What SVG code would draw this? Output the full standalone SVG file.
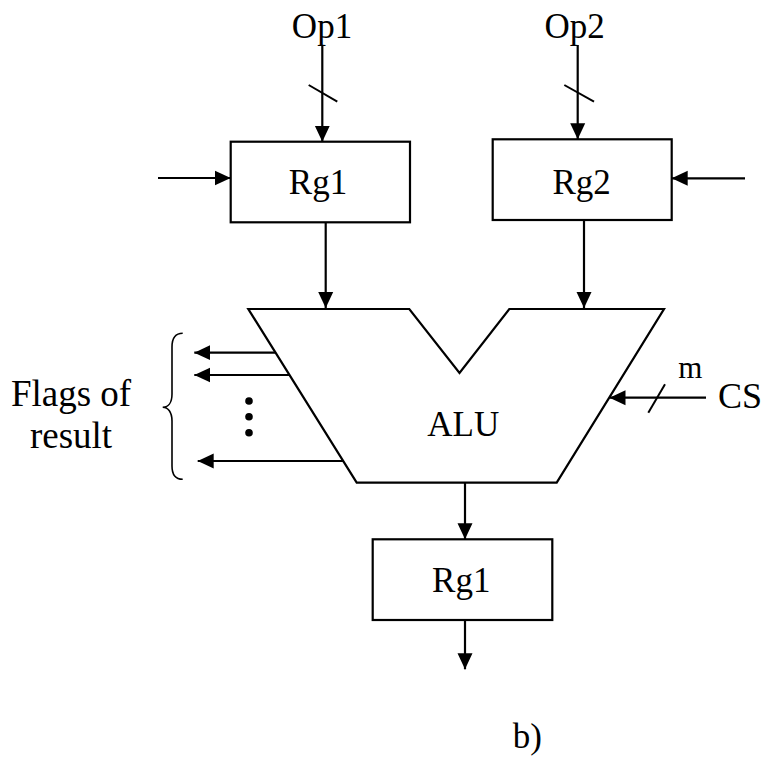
<svg xmlns="http://www.w3.org/2000/svg" width="763" height="758" viewBox="0 0 763 758">
<style>
text { font-family: "Liberation Serif", "Times New Roman", serif; font-size: 35px; fill: #000; }
.box { fill: #fff; stroke: #000; stroke-width: 2.2; }
.alu { fill: #fff; stroke: #000; stroke-width: 2.2; stroke-linejoin: miter; }
.arr { stroke: #000; stroke-width: 2.2; fill: none; marker-end: url(#ah); }
.slash { stroke: #000; stroke-width: 2; fill: none; }
.thin { stroke: #000; stroke-width: 1.6; fill: none; }
</style>
<defs>
<marker id="ah" markerUnits="userSpaceOnUse" markerWidth="17" markerHeight="16" refX="16" refY="8" orient="auto">
<path d="M0,0.5 L16,8 L0,15.5 z" fill="#000"/>
</marker>
</defs>
<g id="connectors">
<line class="arr" x1="322.3" y1="45" x2="322.3" y2="141.7"/>
<line class="slash" x1="308.7" y1="85" x2="337.3" y2="101.7"/>
<line class="arr" x1="577.7" y1="45" x2="577.7" y2="139.3"/>
<line class="slash" x1="564.3" y1="85" x2="594" y2="101.7"/>
<line class="arr" x1="158" y1="178" x2="230.7" y2="178"/>
<line class="arr" x1="745" y1="178.3" x2="671.7" y2="178.3"/>
<line class="arr" x1="325.7" y1="222.3" x2="325.7" y2="308"/>
<line class="arr" x1="584" y1="220" x2="584" y2="308"/>
<line class="arr" x1="275.6" y1="352.7" x2="194.3" y2="352.7"/>
<line class="arr" x1="289.9" y1="375" x2="194.3" y2="375"/>
<line class="arr" x1="343.2" y1="461" x2="197.7" y2="461"/>
<line class="arr" x1="706" y1="397.7" x2="609.5" y2="397.7"/>
<line class="slash" x1="648.3" y1="412.7" x2="665" y2="384.3"/>
<line class="arr" x1="465" y1="482.7" x2="465" y2="539.3"/>
<line class="arr" x1="465" y1="620" x2="465" y2="669.3"/>
</g>
<g id="rg1">
<rect class="box" x="230.7" y="141.7" width="179.3" height="80.6"/>
<text x="318" y="194.3" text-anchor="middle">Rg1</text>
</g>
<g id="rg2">
<rect class="box" x="492.7" y="139.3" width="179" height="80.7"/>
<text x="581.7" y="194" text-anchor="middle">Rg2</text>
</g>
<g id="alu">
<polygon class="alu" points="248.3,309 409.3,309 459.5,373 509.3,309 664,309 556.7,482.7 356.7,482.7"/>
<text x="463.3" y="435.5" text-anchor="middle">ALU</text>
</g>
<g id="rg1-out">
<rect class="box" x="372.7" y="539.3" width="179.6" height="80.7"/>
<text x="461.3" y="591.7" text-anchor="middle">Rg1</text>
</g>
<g id="flags">
<path class="thin" d="M182.7,333.3 C176,333.3 172,337 172,347 L172,394 C172,403 168,407.3 162.7,407.3 C168,407.3 172,412 172,421 L172,466 C172,476 176,479.3 182.7,479.3"/>
<circle cx="249" cy="401" r="3.8" fill="#000"/>
<circle cx="249" cy="416.7" r="3.8" fill="#000"/>
<circle cx="249" cy="432.7" r="3.8" fill="#000"/>
<text x="71" y="406" text-anchor="middle" style="font-size:37px">Flags of</text>
<text x="71" y="448.3" text-anchor="middle" style="font-size:37px">result</text>
</g>
<g id="labels">
<text x="322" y="37.7" text-anchor="middle">Op1</text>
<text x="574.7" y="37.7" text-anchor="middle">Op2</text>
<text x="678.3" y="378.3" style="font-size:31px">m</text>
<text x="718" y="408.3" style="font-size:36px">CS</text>
<text x="512.7" y="748" style="font-size:35px">b)</text>
</g>
</svg>
